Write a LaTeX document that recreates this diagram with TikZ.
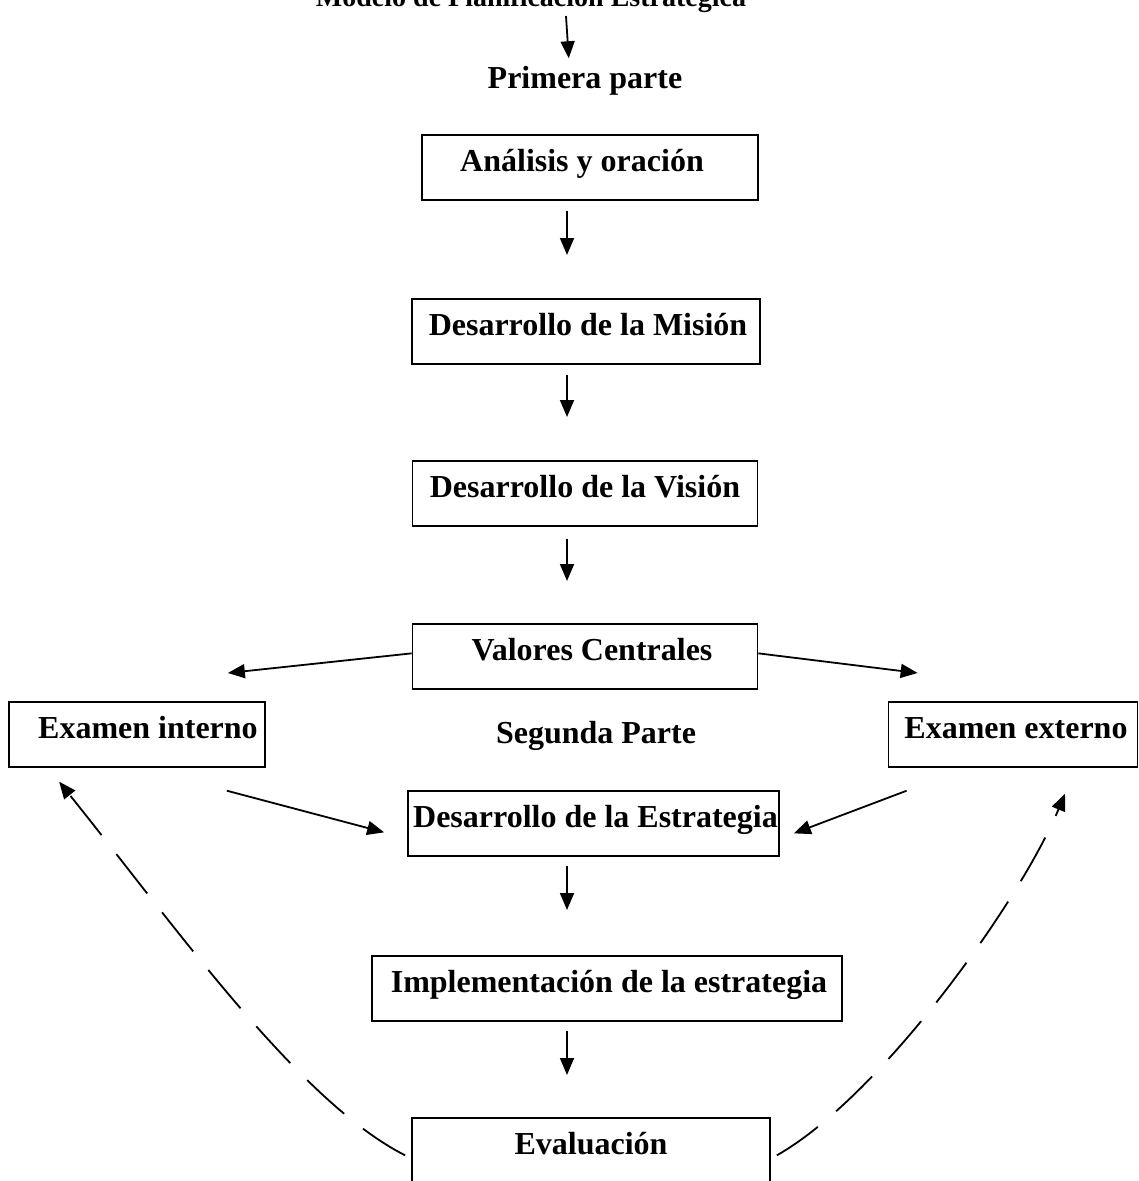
\documentclass[tikz,border=0pt]{standalone}
\usepackage{fontspec}
\setmainfont{Liberation Serif}
\usetikzlibrary{arrows.meta,calc}
\begin{document}
\begin{tikzpicture}[x=1pt,y=-1pt,
 every node/.style={font=\fontsize{32}{38}\selectfont\bfseries},
 box/.style={draw,line width=1.7pt,text height=23pt,text depth=14pt,inner ysep=14pt,inner xsep=0pt,minimum height=65pt,anchor=north},
 arr/.style={line width=1.8pt,-{Triangle[length=17pt,width=14pt]}},
 dasharr/.style={arr,dash pattern=on 50pt off 24pt}]
\useasboundingbox (0,0) rectangle (1139,1181);

\node[anchor=base,font=\fontsize{28}{34}\selectfont\bfseries] (title) at (531,6) {Modelo de Planificación Estratégica};
\node[anchor=base] (p1) at (585,88) {Primera parte};
\node[anchor=base] (p2) at (596,743) {Segunda Parte};

\node[box,minimum width=336pt] (a1) at (590,134) {Análisis y oración\hspace*{16pt}};
\node[box,minimum width=348pt] (a2) at (586,298) {\hspace*{4pt}Desarrollo de la Misión};
\node[box,minimum width=345pt] (a3) at (585,460) {Desarrollo de la Visión};
\node[box,minimum width=345pt] (a4) at (585,623) {\hspace*{14pt}Valores Centrales};
\node[box,minimum width=256pt] (a5) at (137,701) {\hspace*{22pt}Examen interno};
\node[box,minimum width=249pt] (a6) at (1013,701) {\hspace*{6pt}Examen externo};
\node[box,minimum width=371pt] (a7) at (593.5,790) {\hspace*{4pt}Desarrollo de la Estrategia};
\node[box,minimum width=470pt] (a8) at (607,955) {\hspace*{4pt}Implementación de la estrategia};
\node[box,minimum width=358pt] (a9) at (591,1117) {Evaluación};

\coordinate (ax) at (567,0);
\coordinate (t0) at (566,16);
\draw[arr,shorten >=4pt] (t0) -- (p1.north -| {(569,0)});

\draw[arr,shorten <=10pt,shorten >=43pt] (a1.south -| ax) -- (a2.north -| ax);
\draw[arr,shorten <=10pt,shorten >=43pt] (a2.south -| ax) -- (a3.north -| ax);
\draw[arr,shorten <=12pt,shorten >=42pt] (a3.south -| ax) -- (a4.north -| ax);
\draw[arr,shorten <=9pt,shorten >=45pt] (a7.south -| ax) -- (a8.north -| ax);
\draw[arr,shorten <=9pt,shorten >=42pt] (a8.south -| ax) -- (a9.north -| ax);

\draw[arr] ([yshift=3pt]a4.west) -- ([xshift=-38pt,yshift=28pt]a5.north east);
\draw[arr] ([yshift=3pt]a4.east) -- ([xshift=30pt,yshift=28pt]a6.north west);
\draw[arr] ([xshift=-39pt,yshift=-23pt]a5.south east) -- ([xshift=-23pt,yshift=-9pt]a7.west);
\draw[arr] ([xshift=19pt,yshift=-23pt]a6.south west) -- ([xshift=14pt,yshift=-10pt]a7.east);

\draw[dasharr] ([xshift=-6pt,yshift=-5pt]a9.west) .. controls +(-106,-54) and +(120,150) .. ([xshift=51pt,yshift=-14pt]a5.south west);
\draw[dasharr] ([xshift=6pt,yshift=-5pt]a9.east) .. controls +(104,-59) and +(-45,108) .. ([xshift=52pt,yshift=-26pt]a6.south);
\end{tikzpicture}
\end{document}
